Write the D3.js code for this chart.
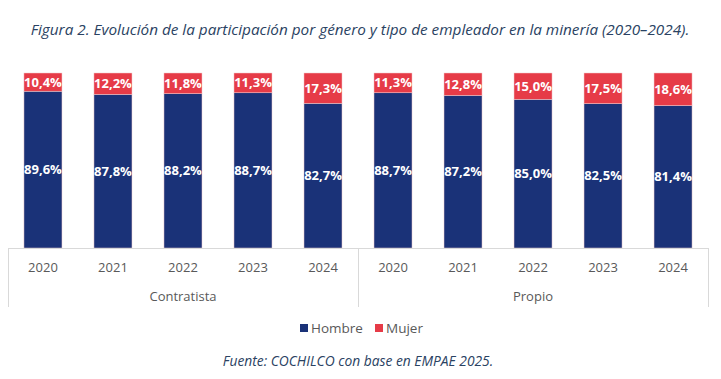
<!DOCTYPE html>
<html>
<head>
<meta charset="utf-8">
<script src="https://cdn.jsdelivr.net/npm/d3@7"></script>
<style>
  body { margin: 0; background: #fff; }
  svg text { font-family: "Open Sans", sans-serif; }
</style>
</head>
<body>
<div id="graf"></div>
<script>
// datos
grupos = ['Contratista', 'Propio']
anios = ['2020', '2021', '2022', '2023', '2024']
hombre = [89.6, 87.8, 88.2, 88.7, 82.7, 88.7, 87.2, 85.0, 82.5, 81.4]
mujer  = [10.4, 12.2, 11.8, 11.3, 17.3, 11.3, 12.8, 15.0, 17.5, 18.6]
series = ['Hombre', 'Mujer']
colores = ['#1a3278', '#e63b47']

ancho_total = 721
alto_total = 379

svg = d3.select('#graf').append('svg')
  .attr('width', ancho_total)
  .attr('height', alto_total)

// titulo
svg.append('text')
  .attr('x', 360).attr('y', 35)
  .attr('text-anchor', 'middle')
  .style('font-style', 'italic')
  .style('font-size', '15.3px')
  .attr('fill', '#2a4262')
  .text('Figura 2. Evolución de la participación por género y tipo de empleador en la minería (2020–2024).')

// filas: una por barra
filas = []
grupos.forEach((g, gi) => {
  anios.forEach((a, ai) => {
    let i = gi * anios.length + ai
    filas.push({ key: g + '-' + a, grupo: g, anio: a, Hombre: hombre[i], Mujer: mujer[i] })
  })
})

x = d3.scaleBand()
  .domain(filas.map(d => d.key))
  .range([8, 708])
  .paddingInner(0.457)
  .paddingOuter(0.228)

y = d3.scaleLinear().domain([0, 100]).range([248, 73])

color = d3.scaleOrdinal().domain(series).range(colores)

apilado = d3.stack().keys(series)(filas)

capas = svg.append('g').selectAll('g')
  .data(apilado)
  .enter().append('g')
  .attr('fill', d => color(d.key))

capas.selectAll('rect')
  .data(d => d)
  .enter().append('rect')
  .attr('x', d => x(d.data.key))
  .attr('width', x.bandwidth())
  .attr('y', d => y(d[1]))
  .attr('height', d => y(d[0]) - y(d[1]))
  .attr('stroke', '#f2c9cc')
  .attr('stroke-width', 0.5)

// etiquetas de valores
capas.selectAll('text')
  .data(d => d.map(v => ({ v: v, serie: d.key })))
  .enter().append('text')
  .attr('x', d => x(d.v.data.key) + x.bandwidth() / 2)
  .attr('y', d => (y(d.v[0]) + y(d.v[1])) / 2)
  .attr('dy', '0.35em')
  .attr('text-anchor', 'middle')
  .attr('fill', '#fff')
  .style('font-weight', 'bold')
  .style('font-size', '13px')
  .text(d => d3.format('.1f')(d.v.data[d.serie]).replace('.', ',') + '%')

// eje x
eje = svg.append('g').attr('stroke', '#d9d9d9').attr('stroke-width', 1)
eje.append('line')
  .attr('x1', 8).attr('x2', 708)
  .attr('y1', 248.5).attr('y2', 248.5)

limites = [8, 358, 708]
eje.selectAll('line.sep')
  .data(limites)
  .enter().append('line')
  .attr('class', 'sep')
  .attr('x1', d => d + 0.5).attr('x2', d => d + 0.5)
  .attr('y1', 248).attr('y2', 307)

svg.append('g').selectAll('text')
  .data(filas)
  .enter().append('text')
  .attr('x', d => x(d.key) + x.bandwidth() / 2)
  .attr('y', 272)
  .attr('text-anchor', 'middle')
  .attr('fill', '#595959')
  .style('font-size', '13px')
  .text(d => d.anio)

svg.append('g').selectAll('text')
  .data(grupos)
  .enter().append('text')
  .attr('x', (d, i) => (limites[i] + limites[i + 1]) / 2)
  .attr('y', 301)
  .attr('text-anchor', 'middle')
  .attr('fill', '#595959')
  .style('font-size', '13px')
  .text(d => d)

// leyenda
leyenda = svg.append('g')
leyenda_x = [300, 375]
items = leyenda.selectAll('g')
  .data(series)
  .enter().append('g')
  .attr('transform', (d, i) => `translate(${leyenda_x[i]},324)`)

items.append('rect')
  .attr('width', 8).attr('height', 8)
  .attr('fill', d => color(d))

items.append('text')
  .attr('x', 11).attr('y', 4)
  .attr('dy', '0.35em')
  .attr('fill', '#595959')
  .style('font-size', '13.5px')
  .text(d => d)

// fuente
svg.append('text')
  .attr('x', 358).attr('y', 366)
  .attr('text-anchor', 'middle')
  .style('font-style', 'italic')
  .style('font-size', '13.8px')
  .attr('fill', '#2a4262')
  .text('Fuente: COCHILCO con base en EMPAE 2025.')
</script>
</body>
</html>
